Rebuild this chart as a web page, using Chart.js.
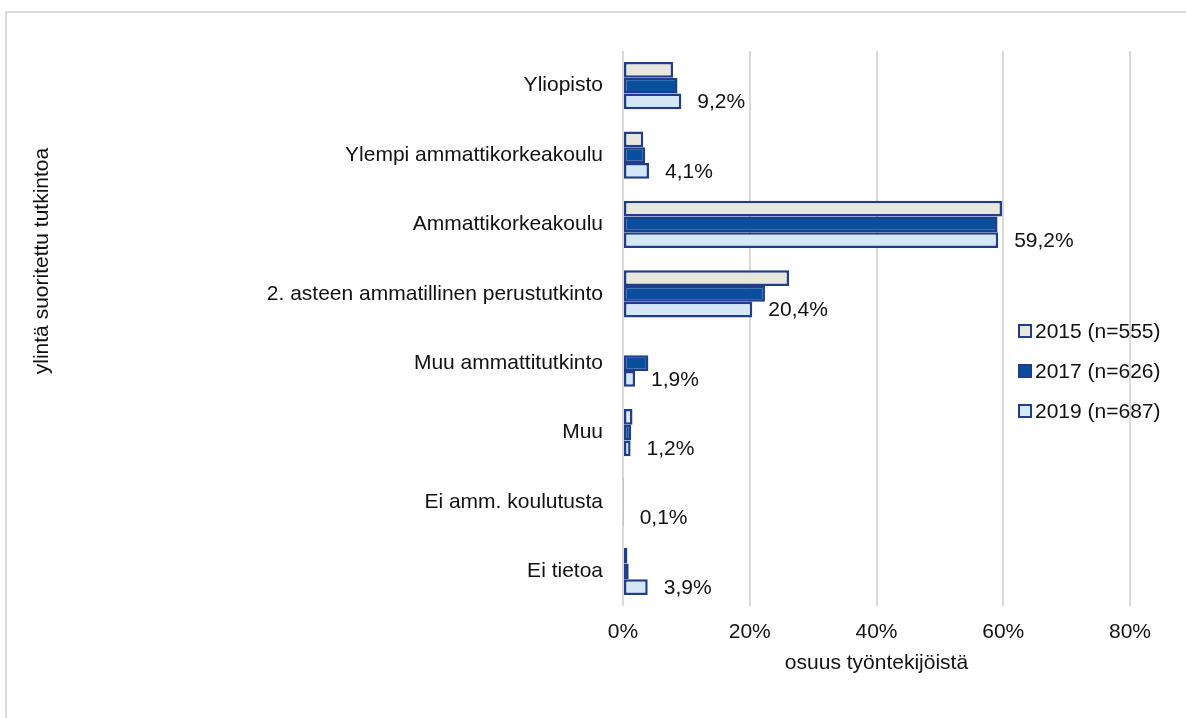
<!DOCTYPE html>
<html>
<head>
<meta charset="utf-8">
<script src="https://cdn.jsdelivr.net/npm/chart.js@4.4.0/dist/chart.umd.min.js"></script>
<style>
  body { margin: 0; background: #fff; overflow: hidden; }
  .frame { position: absolute; left: 5px; top: 11px; width: 1300px; height: 800px; border: 2px solid #dcdcdc; }
  #chart { position: absolute; left: 0; top: 0; }
</style>
</head>
<body>
<div class="frame"></div>
<canvas id="chart" width="1186" height="718"></canvas>
<script>
let categories = ['Yliopisto', 'Ylempi ammattikorkeakoulu', 'Ammattikorkeakoulu',
  '2. asteen ammatillinen perustutkinto', 'Muu ammattitutkinto', 'Muu',
  'Ei amm. koulutusta', 'Ei tietoa'];
let seriesNames = ['2015 (n=555)', '2017 (n=626)', '2019 (n=687)'];
let values2015 = [7.9, 3.2, 59.8, 26.2, null, 1.5, 0.1, 0.7];
let values2017 = [8.6, 3.5, 59.1, 22.4, 4.0, 1.3, 0.1, 0.9];
let values2019 = [9.2, 4.1, 59.2, 20.4, 1.9, 1.2, 0.1, 3.9];
let xTicks = [0, 20, 40, 60, 80];

let fontFamily = '"Liberation Sans", Arial, sans-serif';
let textColor = '#111';
let borderBlue = '#1f3d8a';

// y axis title sits higher than the plot centre, so draw it ourselves
const yTitlePlugin = {
  id: 'yTitle',
  afterDraw(chart) {
    let c = chart.ctx;
    c.save();
    c.translate(42, 261);
    c.rotate(-Math.PI / 2);
    c.font = '21px ' + fontFamily;
    c.fillStyle = textColor;
    c.textAlign = 'center';
    c.textBaseline = 'middle';
    c.fillText('ylintä suoritettu tutkintoa', 0, 0);
    c.restore();
  }
};

// labels only for the 2019 bars
const valueLabels = {
  id: 'valueLabels',
  afterDatasetsDraw(chart) {
    let c = chart.ctx;
    let meta = chart.getDatasetMeta(2);
    c.save();
    c.font = '21px ' + fontFamily;
    c.fillStyle = textColor;
    c.textAlign = 'left';
    c.textBaseline = 'middle';
    meta.data.forEach(function(bar, i) {
      let v = values2019[i];
      c.fillText(v.toFixed(1).replace('.', ',') + '%', bar.x + 16, bar.y + 1);
    });
    c.restore();
  }
};

const boxLegend = {
  id: 'boxLegend',
  afterDraw(chart) {
    let c = chart.ctx;
    c.save();
    c.font = '21px ' + fontFamily;
    c.textBaseline = 'middle';
    c.textAlign = 'left';
    chart.data.datasets.forEach(function(ds, i) {
      let y = 331 + i * 40;
      c.fillStyle = ds.backgroundColor;
      c.fillRect(1019, y - 6, 12, 12);
      c.strokeStyle = borderBlue;
      c.lineWidth = 2;
      c.strokeRect(1019, y - 6, 12, 12);
      c.fillStyle = textColor;
      c.fillText(ds.label, 1035, y + 1);
    });
    c.restore();
  }
};

function makeSet(label, data, fill) {
  return {
    label: label,
    data: data,
    backgroundColor: fill,
    borderColor: borderBlue,
    borderWidth: 2.5,
    borderSkipped: false,
    barPercentage: 1,
    categoryPercentage: 0.68
  };
}

new Chart(document.getElementById('chart').getContext('2d'), {
  type: 'bar',
  data: {
    labels: categories,
    datasets: [
      makeSet(seriesNames[0], values2015, '#e7e7de'),
      makeSet(seriesNames[1], values2017, '#0a4f9e'),
      makeSet(seriesNames[2], values2019, '#d3e7f6')
    ]
  },
  options: {
    indexAxis: 'y',
    responsive: false,
    animation: false,
    devicePixelRatio: 1,
    layout: { padding: { left: 0, right: 56, top: 51, bottom: 42 } },
    plugins: {
      legend: { display: false },
      tooltip: { enabled: false }
    },
    scales: {
      x: {
        min: 0,
        max: 80,
        afterBuildTicks: function(scale) {
          scale.ticks = xTicks.map(function(v) { return { value: v }; });
        },
        afterFit: function(scale) { scale.height = 70; },
        grid: { color: '#d9d9d9', lineWidth: 2, drawTicks: false },
        border: { display: false },
        ticks: {
          padding: 14,
          color: textColor,
          font: { size: 21, family: fontFamily },
          callback: function(v) { return v + '%'; }
        },
        title: {
          display: true,
          text: 'osuus työntekijöistä',
          color: textColor,
          font: { size: 21, family: fontFamily },
          padding: { top: 0, bottom: 0 }
        }
      },
      y: {
        afterFit: function(scale) { scale.width = 623; },
        grid: { display: false, drawTicks: false },
        border: { display: false },
        ticks: {
          padding: 20,
          color: textColor,
          font: { size: 21, family: fontFamily }
        }
      }
    }
  },
  plugins: [yTitlePlugin, valueLabels, boxLegend]
});
</script>
</body>
</html>
